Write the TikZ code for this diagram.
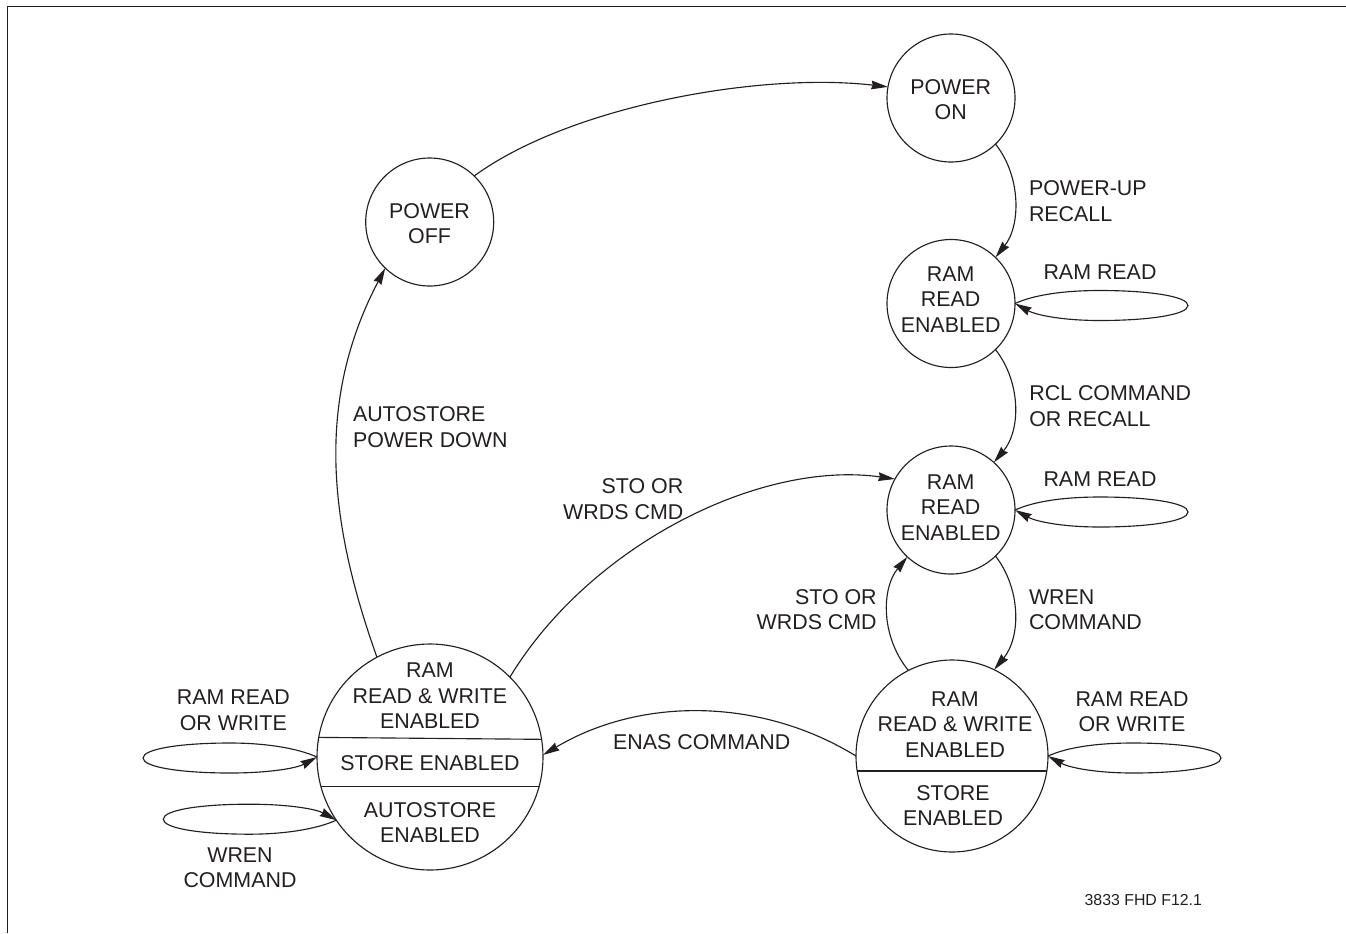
\documentclass[tikz,border=0pt]{standalone}
\usepackage{fontspec}
\setmainfont{Liberation Sans}
\usetikzlibrary{arrows.meta}
\definecolor{ink}{HTML}{231F20}
\tikzset{
  stroke/.style={draw=ink,line width=0.85pt},
  state/.style={stroke,circle,inner sep=0pt,outer sep=0pt,minimum size=96pt},
  stateL/.style={state,minimum size=169.5pt},
  stateM/.style={state,minimum size=144pt},
  arr/.style={stroke,-{Stealth[length=12.5pt,width=6.5pt,inset=1pt]}},
  txt/.style={text=ink,inner sep=0pt,outer sep=0pt,align=center,font=\fontsize{16.05}{19.05}\selectfont},
  txtL/.style={txt,align=left,anchor=west},
  txtR/.style={txt,align=right,anchor=east},
  tiny/.style={txt,font=\fontsize{11.9}{14}\selectfont}
}
\begin{document}
\begin{tikzpicture}[x=0.75pt,y=-0.75pt]
\useasboundingbox (0,0) rectangle (1346,933);
% frame
\coordinate (fa) at (7.5,933);
\coordinate (fb) at (7.5,6.7);
\coordinate (fc) at (1346,6.7);
\draw[stroke,line width=1pt] (fa) -- (fb) -- (fc);
% states
\node[state] (on) at (951,98) {};
\node[state] (off) at (429.7,222) {};
\node[state] (r1) at (951,303.5) {};
\node[state] (r2) at (951,510) {};
\node[stateM] (br) at (952,756) {};
\node[stateL] (bl) at (430,757) {};
% partitions
\draw[stroke] (bl.170.84) -- (bl.9.16);
\draw[stroke] (bl.195.55) -- (bl.-15.55);
\draw[stroke] (br.189.59) -- (br.-9.59);
% state text
\node[txt] (onT) at (950.7,99.5) {POWER\\ON};
\node[txt] (offT) at (429.5,223.6) {POWER\\OFF};
\node[txt] (r1T) at (950.7,299.4) {RAM\\READ\\ENABLED};
\node[txt] (r2T) at (950.7,507.4) {RAM\\READ\\ENABLED};
\node[txt] (brT) at (955,724.4) {RAM\\READ \& WRITE\\ENABLED};
\node[txt] (brS) at (953,805.5) {STORE\\ENABLED};
\node[txt] (blT) at (430,696) {RAM\\READ \& WRITE\\ENABLED};
\node[txt] (blS) at (430,763.3) {STORE ENABLED};
\node[txt] (blA) at (430,822.8) {AUTOSTORE\\ENABLED};
% connectors
\draw[arr] (off.46) .. controls (570,106) and (760,72) .. (on.170.3);
\draw[arr] (on.-46) .. controls (1021,176) and (1021,225) .. (r1.46);
\draw[arr] (r1.-46) .. controls (1021,382) and (1021,430) .. (r2.48);
\draw[arr] (r2.-46) .. controls (1021,589) and (1021,637) .. (br.64);
\draw[arr] (br.117.5) .. controls (881,637) and (881,589) .. (r2.227);
\draw[arr] (bl.118.4) .. controls (328,520) and (316,400) .. (off.226);
\draw[arr] (bl.45) .. controls (590,545) and (760,460) .. (r2.151.6);
\draw[arr] (br.west) .. controls (760,697) and (640,697) .. (bl.1);
% self loops
\draw[arr] (r1.east) .. controls +(20,-9) and +(-35,0) .. ++(85,-13) .. controls +(50,0) and +(0,-9) .. ++(88,15) .. controls +(0,9) and +(50,0) .. ++(-88,15) .. controls +(-40,0) and +(20,11) .. (r1.east);
\draw[arr] (r2.east) .. controls +(20,-9) and +(-35,0) .. ++(85,-13) .. controls +(50,0) and +(0,-9) .. ++(88,15) .. controls +(0,9) and +(50,0) .. ++(-88,15) .. controls +(-40,0) and +(20,11) .. (r2.east);
\draw[arr] (br.east) .. controls +(20,-9) and +(-35,0) .. ++(85,-13) .. controls +(50,0) and +(0,-9) .. ++(88,15) .. controls +(0,9) and +(50,0) .. ++(-88,15) .. controls +(-40,0) and +(20,11) .. (br.east);
\draw[arr] (bl.west) .. controls +(-20,-9) and +(35,0) .. ++(-87,-14) .. controls +(-50,0) and +(0,-9) .. ++(-87,15) .. controls +(0,9) and +(-50,0) .. ++(87,15) .. controls +(40,0) and +(-20,11) .. (bl.west);
\draw[arr] (bl.214.7) .. controls +(-20,9) and +(35,0) .. ++(-87,14) .. controls +(-50,0) and +(0,9) .. ++(-86,-15) .. controls +(0,-9) and +(-50,0) .. ++(86,-15) .. controls +(40,0) and +(-20,-11) .. (bl.214.7);
% labels
\node[txtL] (l1) at (1029,201) {POWER-UP\\RECALL};
\node[txt] (l2) at (1100,271.7) {RAM READ};
\node[txtL] (l3) at (1029.3,406) {RCL COMMAND\\OR RECALL};
\node[txt] (l4) at (1100,479.3) {RAM READ};
\node[txtL] (l5) at (1029,609.7) {WREN\\COMMAND};
\node[txt] (l6) at (1132,711.5) {RAM READ\\OR WRITE};
\node[txtR] (l7) at (876.7,609.7) {STO OR\\WRDS CMD};
\node[txtR] (l8) at (683.3,499.2) {STO OR\\WRDS CMD};
\node[txtL] (l9) at (353,427) {AUTOSTORE\\POWER DOWN};
\node[txt] (l10) at (701.7,741.7) {ENAS COMMAND};
\node[txt] (l11) at (233.3,710.3) {RAM READ\\OR WRITE};
\node[txt] (l12) at (240,868) {WREN\\COMMAND};
\node[tiny] (l13) at (1143.3,900) {3833 FHD F12.1};
\end{tikzpicture}
\end{document}
